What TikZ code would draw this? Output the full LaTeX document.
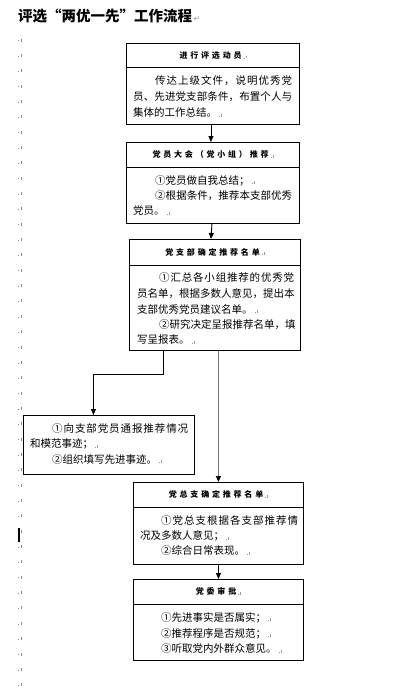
\documentclass[tikz,border=0pt]{standalone}
\usepackage{fontspec}
\setmainfont{Noto Sans CJK SC}
\newfontfamily\hdrfont[LetterSpace=35]{Noto Sans CJK SC}
\newfontfamily\dejavu{DejaVu Sans}
\usetikzlibrary{arrows.meta}
\newcommand\pmk{\hspace{2pt}{\color{black!40}\rule{0.7pt}{0.7pt}\hspace{1.3pt}\rule{0.7pt}{2.6pt}}}
\newcommand\bodyfont{\fontsize{10.5}{12}\selectfont}
\ExplSyntaxOn
\NewDocumentCommand\jl{mm}{\makebox[#1][s]{\tl_map_inline:nn{#2}{##1\hfill}\unskip}}
\ExplSyntaxOff
\tikzset{
  box/.style={draw=black, line width=0.9pt, inner sep=0pt, anchor=north west},
  hdr/.style={inner sep=0pt, anchor=center, font=\hdrfont\bfseries\fontsize{8}{9}\selectfont},
  txt/.style={inner sep=0pt, anchor=base west, font=\bodyfont},
  arr/.style={line width=0.9pt, -{Triangle[length=6pt,width=5pt]}},
  garr/.style={line width=1.4pt, draw=black!55, -{Triangle[length=6pt,width=5pt,fill=black,color=black]}},
  divl/.style={line width=0.9pt}
}
\begin{document}
\begin{tikzpicture}[x=1pt,y=-1pt]
\useasboundingbox (0,0) rectangle (406,688);
% left margin paragraph marks
\foreach \k in {0,...,42}{
  \fill[black!45] (18,{41+15.35*\k}) rectangle ++(0.8,-0.8);
  \fill[black!45] (21,{41+15.35*\k+0.5}) rectangle ++(0.8,-3);
}
\fill[black] (17.5,528) rectangle (19.5,542);
% title
\node[inner sep=0pt, anchor=base west, font=\bfseries\fontsize{14.5}{16}\selectfont] (title) at (18,21)
  {评选“两优一先”工作流程{\dejavu\mdseries\fontsize{8}{9}\selectfont\color{black!40}\,↵}};
% box 1
\node[box, minimum width=173pt, minimum height=81pt] (b1) at (126,43) {};
\draw[divl] ([yshift=-24pt]b1.north west) -- ([yshift=-24pt]b1.north east);
\node[hdr] (h1) at ([yshift=-12.5pt]b1.north) {进行评选动员\pmk};
\node[txt] (b1a) at (155,84.5) {\jl{137pt}{传达上级文件，说明优秀党}};
\node[txt] (b1b) at (133,100.5) {\jl{159pt}{员、先进党支部条件，布置个人与}};
\node[txt] (b1c) at (133,116.5) {集体的工作总结。\pmk};
% box 2
\node[box, minimum width=173pt, minimum height=81pt] (b2) at (126,142) {};
\draw[divl] ([yshift=-25pt]b2.north west) -- ([yshift=-25pt]b2.north east);
\node[hdr] (h2) at ([yshift=-12.5pt]b2.north) {党员大会（党小组）推荐\pmk};
\node[txt] (b2a) at (155,184) {①党员做自我总结；\pmk};
\node[txt] (b2b) at (155,199.5) {\jl{137pt}{②根据条件，推荐本支部优秀}};
\node[txt] (b2c) at (133,214.5) {党员。\pmk};
% box 3
\node[box, minimum width=171pt, minimum height=111pt] (b3) at (129,239) {};
\draw[divl] ([yshift=-26pt]b3.north west) -- ([yshift=-26pt]b3.north east);
\node[hdr] (h3) at ([yshift=-13pt]b3.north) {党支部确定推荐名单\pmk};
\node[txt] (b3a) at (159,281) {\jl{135pt}{①汇总各小组推荐的优秀党}};
\node[txt] (b3b) at (137,297) {\jl{157pt}{员名单，根据多数人意见，提出本}};
\node[txt] (b3c) at (137,313) {支部优秀党员建议名单。\pmk};
\node[txt] (b3d) at (159,328.5) {\jl{135pt}{②研究决定呈报推荐名单，填}};
\node[txt] (b3e) at (137,343.5) {写呈报表。\pmk};
% box 4
\node[box, minimum width=171pt, minimum height=59pt] (b4) at (23,415) {};
\node[txt] (b4a) at (52,432) {\jl{136pt}{①向支部党员通报推荐情况}};
\node[txt] (b4b) at (30,447.5) {和模范事迹；\pmk};
\node[txt] (b4c) at (52,463) {②组织填写先进事迹。\pmk};
% box 5
\node[box, minimum width=170pt, minimum height=82pt] (b5) at (133,482) {};
\draw[divl] ([yshift=-25pt]b5.north west) -- ([yshift=-25pt]b5.north east);
\node[hdr] (h5) at ([yshift=-12.5pt]b5.north) {党总支确定推荐名单\pmk};
\node[txt] (b5a) at (161,524) {\jl{137pt}{①党总支根据各支部推荐情}};
\node[txt] (b5b) at (140,539.5) {况及多数人意见；\pmk};
\node[txt] (b5c) at (161,554.5) {②综合日常表现。\pmk};
% box 6
\node[box, minimum width=170pt, minimum height=81pt] (b6) at (133,579) {};
\draw[divl] ([yshift=-25pt]b6.north west) -- ([yshift=-25pt]b6.north east);
\node[hdr] (h6) at ([yshift=-12.5pt]b6.north) {党委审批\pmk};
\node[txt] (b6a) at (161,621) {①先进事实是否属实；\pmk};
\node[txt] (b6b) at (161,637) {②推荐程序是否规范；\pmk};
\node[txt] (b6c) at (161,652.5) {③听取党内外群众意见。\pmk};
% connectors
\draw[arr] ([xshift=-2pt]b1.south) -- ([xshift=-2pt]b2.north);
\draw[arr] ([xshift=-1pt]b2.south) -- ([xshift=-4pt]b3.north);
\draw[arr] ([xshift=-51.5pt]b3.south) -- ++(0,24) -| ([xshift=-15.5pt]b4.north);
\draw[garr] ([xshift=3.5pt]b3.south) -- (b5.north);
\draw[arr] (b5.south) -- (b6.north);
\end{tikzpicture}
\end{document}
